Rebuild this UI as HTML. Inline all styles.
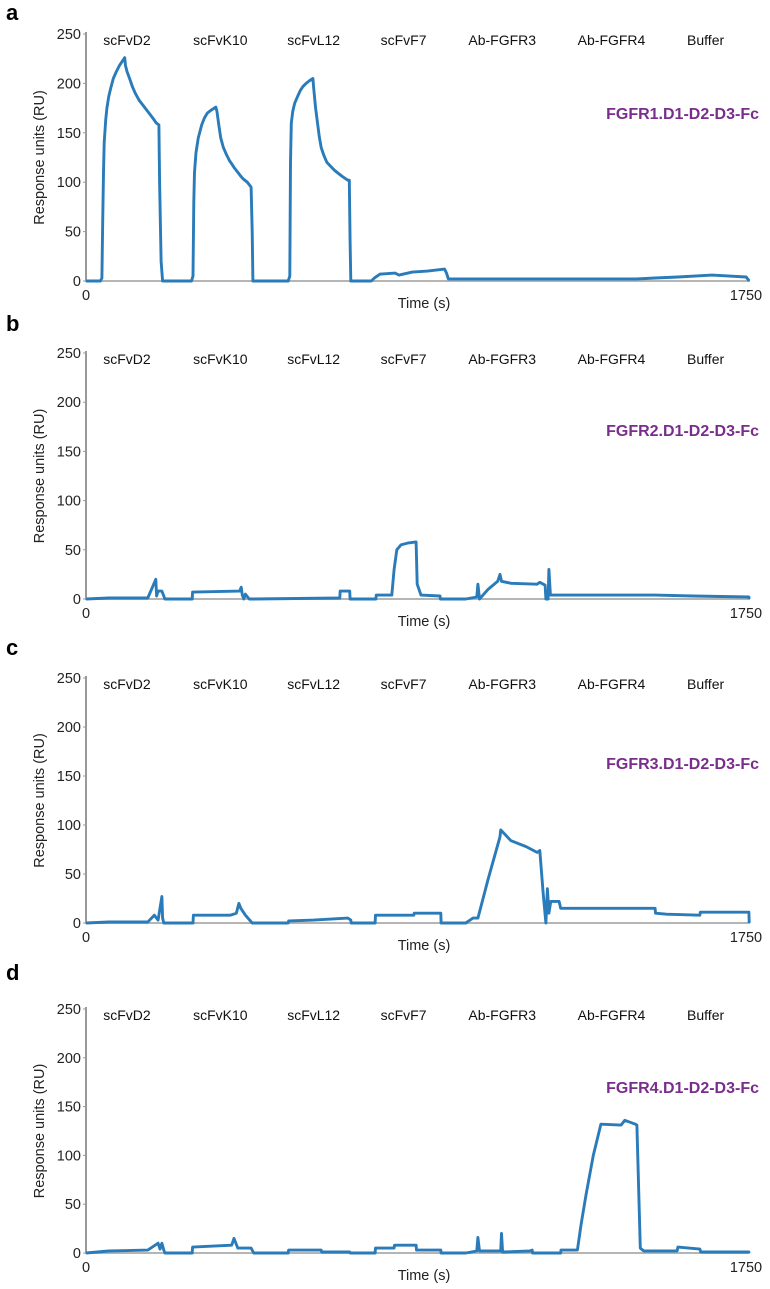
<!DOCTYPE html>
<html><head><meta charset="utf-8"><style>
body{margin:0;background:#fff;}
svg{display:block;font-family:"Liberation Sans",sans-serif;}
.tick{font-size:14.5px;fill:#222;}
.inj{font-size:14px;fill:#111;}
.ttl{font-size:16px;font-weight:bold;fill:#7a2d8c;}
.pl{font-size:22px;font-weight:bold;fill:#000;}
</style></head><body>
<svg id="chart" width="770" height="1289" viewBox="0 0 770 1289"></svg>
<script>
const injections = ["scFvD2","scFvK10","scFvL12","scFvF7","Ab-FGFR3","Ab-FGFR4","Buffer"];
const injectionTimes = [108,354,600,837,1097,1385,1633];
const yTicks = [0,50,100,150,200,250];
const panelLetters = ["a","b","c","d"];
const panelTitles = ["FGFR1.D1-D2-D3-Fc","FGFR2.D1-D2-D3-Fc","FGFR3.D1-D2-D3-Fc","FGFR4.D1-D2-D3-Fc"];
const timesA = [0,38,42,44,46,48,52,55,60,65,72,80,88,95,102,104,108,115,122,130,140,150,160,170,178,185,192,194,198,202,278,282,284,286,290,296,305,312,320,330,342,345,350,355,362,370,378,385,392,400,408,415,425,435,438,440,533,537,539,541,545,550,558,565,572,580,590,598,600,605,610,615,620,627,635,645,655,665,675,690,694,696,698,752,760,775,815,825,860,900,945,950,955,1100,1300,1450,1500,1560,1650,1740,1748];
const valuesA = [0,0,3,60,110,140,163,175,187,195,205,212,218,222,226,218,212,205,197,190,183,178,173,168,164,160,158,100,20,0,0,5,80,110,130,145,158,165,170,173,176,172,158,145,135,128,122,118,114,110,106,103,100,95,50,0,0,5,120,160,172,180,187,193,197,200,203,205,195,175,160,146,135,127,120,116,112,109,106,102,102,40,0,0,3,7,8,6,9,10,12,8,2,2,2,2,3,4,6,4,0];
const timesB = [0,60,163,184,186,190,200,208,280,281,405,409,412,416,420,430,436,442,669,670,690,695,696,764,765,806,812,819,830,850,870,873,883,933,934,1001,1030,1033,1037,1060,1085,1091,1095,1120,1189,1196,1210,1212,1218,1220,1224,1300,1500,1600,1747,1748];
const valuesB = [0,1,1,20,3,8,8,0,0,7,8,12,4,0,5,0,0,0,1,8,8,8,0,0,4,4,30,50,55,57,58,15,4,3,0,0,2,15,0,10,18,25,18,16,15,17,14,0,0,30,4,4,4,3,2,0];
const timesC = [0,60,163,180,190,200,202,205,208,282,283,380,396,403,408,420,438,533,534,600,690,698,699,762,763,864,865,935,936,1001,1020,1033,1060,1091,1093,1120,1160,1189,1196,1205,1212,1216,1220,1225,1247,1251,1351,1500,1501,1530,1618,1619,1747,1748];
const valuesC = [0,1,1,8,3,27,5,0,0,0,8,8,10,20,15,8,0,0,2,3,5,3,0,0,8,8,10,10,0,0,5,5,45,88,95,84,78,72,74,30,0,35,10,22,22,15,15,15,10,9,8,11,11,0];
const timesD = [0,60,163,190,195,200,205,208,280,281,384,390,400,435,442,533,534,620,621,695,696,762,763,812,813,870,871,935,936,1001,1030,1033,1037,1093,1095,1098,1170,1176,1177,1251,1252,1295,1305,1318,1337,1357,1410,1420,1448,1452,1461,1470,1558,1560,1618,1620,1747,1748];
const valuesD = [0,2,3,10,4,10,3,0,0,6,8,15,5,5,0,0,3,3,1,1,0,0,5,5,8,8,3,3,0,0,2,16,2,2,20,1,2,3,0,0,3,3,30,60,100,132,131,136,132,131,5,2,2,6,4,1,1,0];
const seriesTimes = [timesA,timesB,timesC,timesD];
const seriesValues = [valuesA,valuesB,valuesC,valuesD];

const NS="http://www.w3.org/2000/svg";
const svg=document.getElementById('chart');
const X0=86, X1=750, TMAX=1750, VMAX=250;
const zeroY=[281,599,923,1253];
const topY=[34,353,678,1009];
const letterY=[20,331,655,980];
const titleY=[119,436,769,1093];
function el(tag,attrs,text){const e=document.createElementNS(NS,tag);for(const k in attrs)e.setAttribute(k,attrs[k]);if(text!==undefined)e.textContent=text;svg.appendChild(e);return e;}
function xs(t){return X0+(t/TMAX)*(X1-X0);}
for(let p=0;p<4;p++){
  const z=zeroY[p], tp=topY[p];
  const ys=v=>z-(v/VMAX)*(z-tp);
  let e=el('text',{x:6,y:letterY[p],class:'pl'},panelLetters[p]);
  
  
  e=el('line',{x1:X0,y1:z,x2:X1,y2:z,stroke:'#b5b5b5','stroke-width':2});
  
  
  e=el('line',{x1:X0,y1:tp-2,x2:X0,y2:z+1,stroke:'#999','stroke-width':2});
  
  
  for(const v of yTicks){
    e=el('line',{x1:X0-3,y1:ys(v),x2:X0,y2:ys(v),stroke:'#999','stroke-width':1});
    
    
    e=el('text',{x:X0-5,y:ys(v)+5,'text-anchor':'end',class:'tick'},String(v));
    
    
  }
  e=el('text',{x:X0,y:z+19,'text-anchor':'middle',class:'tick'},'0');
  
  
  e=el('text',{x:746,y:z+19,'text-anchor':'middle',class:'tick'},'1750');
  
  
  e=el('text',{x:424,y:z+27,'text-anchor':'middle',class:'tick'},'Time (s)');
  
  
  const cy=(z+tp)/2;
  e=el('text',{x:44,y:cy,'text-anchor':'middle',class:'tick',transform:'rotate(-90 44 '+cy+')'},'Response units (RU)');
  
  
  injections.forEach((n,i)=>{
    e=el('text',{x:xs(injectionTimes[i]),y:tp+11,'text-anchor':'middle',class:'inj'},n);
    
    
  });
  e=el('text',{x:759,y:titleY[p],'text-anchor':'end',class:'ttl'},panelTitles[p]);
  
  
  const T=seriesTimes[p], V=seriesValues[p];
  const d=T.map((t,i)=>(i?'L':'M')+xs(t).toFixed(1)+' '+ys(V[i]).toFixed(1)).join(' ');
  e=el('path',{d:d,fill:'none',stroke:'#2a7bb9','stroke-width':2.9,'stroke-linejoin':'round'});
  
  
}
</script>
</body></html>
